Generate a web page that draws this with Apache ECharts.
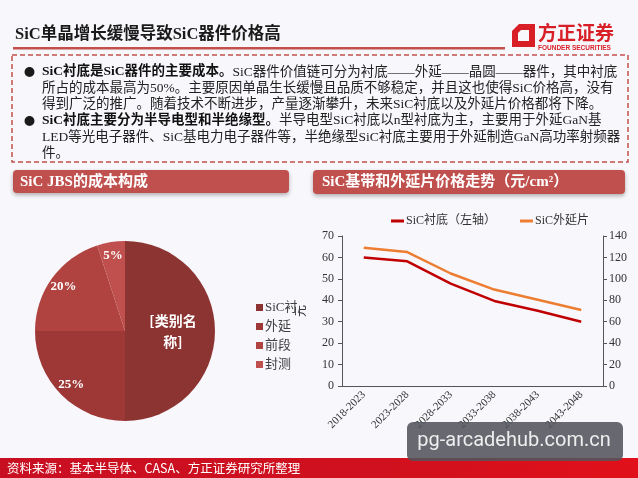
<!DOCTYPE html>
<html>
<head>
<meta charset="utf-8">
<script src="https://cdn.jsdelivr.net/npm/echarts@6/dist/echarts.min.js"></script>
<style>
  html, body { margin: 0; padding: 0; background: #f8f7fc; }
  #main { width: 638px; height: 478px; }
</style>
</head>
<body>
<div id="main"></div>
<script>
// 饼图数据
const pieNames = ['SiC衬底', '外延', '前段', '封测']
const pieValues = [50, 25, 20, 5]
const pieColors = ['#8c3431', '#9e3836', '#b0423f', '#c0504d']

// 折线图数据
const periods = ['2018-2023', '2023-2028', '2028-2033', '2033-2038', '2038-2043', '2043-2048']
const substratePrice = [60, 58.2, 47.8, 39.7, 35.1, 30]   // 左轴
const epiPrice = [129, 125, 105, 90, 80.5, 71]             // 右轴
const leftAxis = { min: 0, max: 70, interval: 10 }
const rightAxis = { min: 0, max: 140, interval: 20 }

const title = 'SiC单晶增长缓慢导致SiC器件价格高'
const bodyLines = [
    ['SiC衬底是SiC器件的主要成本。', 'SiC器件价值链可分为衬底——外延——晶圆——器件，其中衬底'],
    ['', '所占的成本最高为50%。主要原因单晶生长缓慢且品质不够稳定，并且这也使得SiC价格高，没有'],
    ['', '得到广泛的推广。随着技术不断进步，产量逐渐攀升，未来SiC衬底以及外延片价格都将下降。'],
    ['SiC衬底主要分为半导电型和半绝缘型。', '半导电型SiC衬底以n型衬底为主，主要用于外延GaN基'],
    ['', 'LED等光电子器件、SiC基电力电子器件等，半绝缘型SiC衬底主要用于外延制造GaN高功率射频器'],
    ['', '件。']
]
const source = '资料来源：基本半导体、CASA、方正证券研究所整理'

const serif = "'Liberation Serif', 'Noto Sans CJK SC'"
const sans = "'Noto Sans CJK SC'"
const bg = '#f8f7fc'

const chart = echarts.init(document.getElementById('main'))

// 正文文字
const lineTop = 72
const lineGap = 16.3
const textEls = []
bodyLines.forEach((l, i) => {
    const y = lineTop + i * lineGap
    if (l[0]) {
        textEls.push({
            type: 'text', z: 4,
            style: { x: 24, y: y, text: '●', font: '11px ' + sans, fill: '#1a1a1a', verticalAlign: 'middle' }
        })
    }
    textEls.push({
        type: 'text', z: 4,
        style: {
            x: 42, y: y, verticalAlign: 'middle',
            text: (l[0] ? '{b|' + l[0] + '}' : '') + '{n|' + l[1] + '}',
            rich: {
                b: { fontFamily: serif, fontSize: 13.5, fontWeight: 'bold', fill: '#111' },
                n: { fontFamily: serif, fontSize: 13.5, fill: '#222' }
            }
        }
    })
})

const option = {
    backgroundColor: bg,
    animation: false,
    legend: [
        {
            data: pieNames,
            orient: 'vertical',
            left: 251, top: 296,
            itemWidth: 7, itemHeight: 7, itemGap: 6,
            icon: 'rect',
            z: 2,
            textStyle: { fontFamily: serif, fontSize: 13, color: '#404040', padding: [0, 0, 0, -3] }
        },
        {
            data: ['SiC衬底（左轴）', 'SiC外延片'],
            left: 386, top: 210,
            itemWidth: 13, itemHeight: 3, itemGap: 24,
            icon: 'rect',
            z: 5,
            textStyle: { fontFamily: serif, fontSize: 12, color: '#333', padding: [0, 0, 0, -3] }
        }
    ],
    grid: { left: 342, right: 35, top: 236, bottom: 92, containLabel: false },
    xAxis: {
        type: 'category',
        data: periods,
        z: 5,
        axisLine: { lineStyle: { color: '#555' } },
        axisTick: { length: 4, lineStyle: { color: '#555' } },
        axisLabel: { rotate: 45, fontFamily: serif, fontSize: 11, color: '#333', margin: 7 }
    },
    yAxis: [
        {
            type: 'value', z: 5,
            min: leftAxis.min, max: leftAxis.max, interval: leftAxis.interval,
            name: '元', nameLocation: 'middle', nameGap: 36, nameRotate: 90,
            nameTextStyle: { fontFamily: sans, fontSize: 12, color: '#333' },
            axisLine: { show: true, lineStyle: { color: '#555' } },
            axisTick: { show: true, length: 4, lineStyle: { color: '#555' } },
            splitLine: { show: false },
            axisLabel: { fontFamily: serif, fontSize: 12, color: '#333', margin: 8 }
        },
        {
            type: 'value', z: 5, position: 'right',
            min: rightAxis.min, max: rightAxis.max, interval: rightAxis.interval,
            axisLine: { show: true, lineStyle: { color: '#555' } },
            axisTick: { show: true, length: 4, lineStyle: { color: '#555' } },
            splitLine: { show: false },
            axisLabel: { fontFamily: serif, fontSize: 12, color: '#333', margin: 6 }
        }
    ],
    series: [
        {
            type: 'pie',
            name: 'cost',
            center: [125, 331],
            radius: [0, 90],
            startAngle: 90,
            silent: true,
            data: pieNames.map((n, i) => ({
                name: n, value: pieValues[i],
                itemStyle: { color: pieColors[i] },
                label: { show: i === 0 }
            })),
            label: {
                position: 'inside',
                formatter: '[类别名\n称]',
                color: '#fff', fontFamily: sans, fontWeight: 'bold', fontSize: 14, lineHeight: 21
            },
            labelLine: { show: false }
        },
        {
            // 百分比标签层（透明环，让标签落在外侧）
            type: 'pie',
            center: [125, 331],
            radius: [56, 90],
            startAngle: 90,
            silent: true,
            z: 3,
            data: pieNames.map((n, i) => ({
                name: n + ' ', value: pieValues[i],
                itemStyle: { color: 'rgba(0,0,0,0)' },
                label: { show: i !== 0 }
            })),
            label: {
                position: 'inside',
                formatter: '{d}%',
                color: '#fff', fontFamily: serif, fontWeight: 'bold', fontSize: 13
            },
            labelLine: { show: false }
        },
        {
            name: 'SiC衬底（左轴）',
            type: 'line', z: 6,
            yAxisIndex: 0,
            data: substratePrice,
            symbol: 'none',
            itemStyle: { color: '#c00000' },
            lineStyle: { color: '#c00000', width: 2.5 }
        },
        {
            name: 'SiC外延片',
            type: 'line', z: 6,
            yAxisIndex: 1,
            data: epiPrice,
            symbol: 'none',
            itemStyle: { color: '#ed7d31' },
            lineStyle: { color: '#ed7d31', width: 2.5 }
        }
    ],
    graphic: {
        elements: [
            // 右侧图区遮住左侧图例的溢出部分
            { type: 'rect', z: 3, shape: { x: 299, y: 198, width: 339, height: 222 }, style: { fill: bg } },
            // 标题
            {
                type: 'text', z: 4,
                style: { x: 15, y: 35, text: title, font: 'bold 16.5px ' + serif, fill: '#1a1a1a', verticalAlign: 'middle' }
            },
            { type: 'rect', z: 4, shape: { x: 13, y: 47, width: 492, height: 2.5 }, style: { fill: '#c4504c' } },
            // logo
            {
                type: 'polygon', z: 4,
                shape: { points: [[519, 24], [535, 24], [535, 47], [512, 47], [512, 31]] },
                style: { fill: '#d81e26' }
            },
            {
                type: 'polygon', z: 4,
                shape: { points: [[521, 30], [529, 30], [529, 41], [518, 41], [518, 33]] },
                style: { fill: bg }
            },
            {
                type: 'text', z: 4,
                style: { x: 538, y: 33, text: '方正证券', font: 'bold 19px ' + sans, fill: '#d81e26', verticalAlign: 'middle' }
            },
            {
                type: 'text', z: 4,
                style: { x: 538, y: 48, text: 'FOUNDER SECURITIES', font: 'bold 6.5px Liberation Sans', fill: '#d81e26', verticalAlign: 'middle' }
            },
            // 虚线框
            {
                type: 'rect', z: 4,
                shape: { x: 12, y: 55, width: 616, height: 107 },
                style: { fill: 'none', stroke: '#c4504c', lineWidth: 1.5, lineDash: [5, 3] }
            },
            ...textEls,
            // 小标题
            {
                type: 'rect', z: 4,
                shape: { x: 13, y: 170, width: 276, height: 23, r: 4 },
                style: { fill: '#c0504d', shadowBlur: 4, shadowOffsetY: 2, shadowColor: 'rgba(0,0,0,0.3)' }
            },
            {
                type: 'text', z: 4,
                style: { x: 20, y: 182, text: 'SiC JBS的成本构成', font: 'bold 15px ' + serif, fill: '#fff', verticalAlign: 'middle' }
            },
            {
                type: 'rect', z: 4,
                shape: { x: 313, y: 170, width: 312, height: 24, r: 4 },
                style: { fill: '#c0504d', shadowBlur: 4, shadowOffsetY: 2, shadowColor: 'rgba(0,0,0,0.3)' }
            },
            {
                type: 'text', z: 4,
                style: { x: 322, y: 182, text: 'SiC基带和外延片价格走势（元/cm²）', font: 'bold 15px ' + serif, fill: '#fff', verticalAlign: 'middle' }
            },
            // 底部来源条
            {
                type: 'rect', z: 9,
                shape: { x: 0, y: 458, width: 638, height: 20 },
                style: {
                    fill: new echarts.graphic.LinearGradient(0, 0, 1, 0, [
                        { offset: 0, color: '#c80f22' },
                        { offset: 0.6, color: '#d0101e' },
                        { offset: 1, color: '#e1101a' }
                    ])
                }
            },
            {
                type: 'text', z: 9,
                style: { x: 7, y: 468.5, text: source, font: '12.5px ' + sans, fill: '#fff', verticalAlign: 'middle' }
            },
            // 水印
            {
                type: 'rect', z: 10,
                shape: { x: 407, y: 422, width: 216, height: 39, r: 6 },
                style: { fill: 'rgba(82,84,92,0.88)' }
            },
            {
                type: 'text', z: 10,
                style: { x: 514, y: 441, text: 'pg-arcadehub.com.cn', font: '20px Roboto', fill: '#eeeeee', align: 'center', verticalAlign: 'middle' }
            }
        ]
    }
}

chart.setOption(option)
</script>
</body>
</html>
